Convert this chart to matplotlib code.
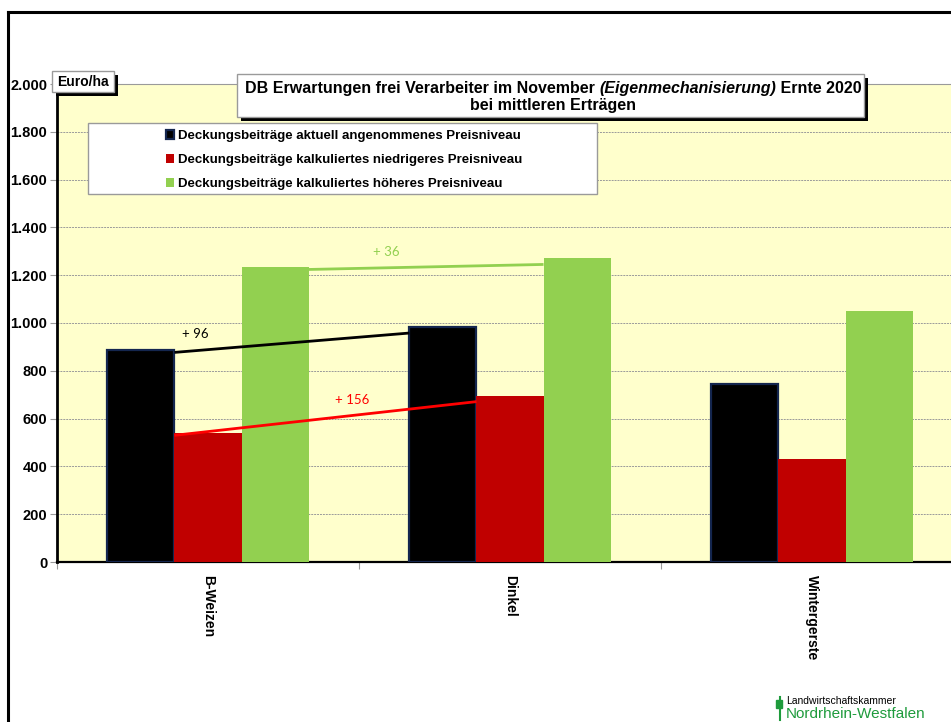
import numpy as np
import matplotlib
matplotlib.use("Agg")
import matplotlib.pyplot as plt
from matplotlib.patches import Rectangle
from matplotlib.ticker import FuncFormatter

# Daten (Euro/ha)
kulturen = ["B-Weizen", "Dinkel", "Wintergerste"]
db_aktuell = [887, 983, 745]
db_niedriger = [540, 696, 431]
db_hoeher = [1234, 1270, 1050]
serien_namen = [
    "Deckungsbeiträge aktuell angenommenes Preisniveau",
    "Deckungsbeiträge kalkuliertes niedrigeres Preisniveau",
    "Deckungsbeiträge kalkuliertes höheres Preisniveau",
]
farben = ["#000000", "#C00000", "#92D050"]

W, H = 951, 722
fig = plt.figure(figsize=(W / 100, H / 100), dpi=100)
fig.patch.set_facecolor("white")


def fx(px):
    return px / W


def fy(py):
    return 1 - py / H


# äußerer Rahmen
fig.add_artist(plt.Line2D([fx(8), fx(8)], [fy(12), 0], color="black", lw=2.2))
fig.add_artist(plt.Line2D([fx(8), 1], [fy(12), fy(12)], color="black", lw=2.2))

ax = fig.add_axes([fx(57), fy(562), fx(906), fy(84) - fy(562)])
ax.set_facecolor("#FFFFCC")

x = np.arange(len(kulturen))
w = 0.222
ax.bar(x - w, db_aktuell, w, color=farben[0], edgecolor="#14264F", linewidth=1.6,
       label=serien_namen[0], zorder=3)
ax.bar(x, db_niedriger, w, color=farben[1], label=serien_namen[1], zorder=3)
ax.bar(x + w, db_hoeher, w, color=farben[2], label=serien_namen[2], zorder=3)

ax.set_xlim(-0.5, len(kulturen) - 0.5)
ax.set_ylim(0, 2000)
ax.set_yticks(np.arange(0, 2001, 200))
ax.yaxis.set_major_formatter(FuncFormatter(lambda v, p: f"{int(v):,}".replace(",", ".")))
ax.grid(axis="y", color="#9A9A9A", linestyle=(0, (2, 1)), linewidth=0.7, zorder=0)
ax.tick_params(axis="y", length=5, color="#9A9A9A", pad=2)
for t in ax.get_yticklabels():
    t.set_fontweight("bold")
    t.set_fontsize(10.5)
    t.set_family("Liberation Sans")

ax.set_xticks(np.arange(-0.5, len(kulturen), 1.0))
ax.set_xticklabels([])
ax.tick_params(axis="x", length=5, color="#9A9A9A")
for i, k in enumerate(kulturen):
    ax.text(i, -55, k, rotation=-90, ha="center", va="top", fontsize=10,
            fontweight="bold", family="Liberation Sans", clip_on=False)

ax.spines["left"].set_linewidth(2)
ax.spines["bottom"].set_linewidth(1.6)
ax.spines["top"].set_color("#9A9A9A")
ax.spines["right"].set_visible(False)

# Verbindungslinien mit Differenzen (B-Weizen -> Dinkel)
linien = [
    (db_aktuell, -w / 2, 1 - 1.5 * w, "black", 0.09, 60),
    (db_niedriger, -w / 2, 1 - w / 2, "#FF0000", 0.59, 45),
    (db_hoeher, 1.5 * w, 1 + w / 2, "#92D050", 0.33, 50),
]
for werte, x0, x1, c, f, dy in linien:
    y0, y1 = werte[0], werte[1]
    ax.plot([x0, x1], [y0 - 10, y1 - 25], color=c, lw=2, zorder=4, solid_capstyle="butt")
    ax.text(x0 + f * (x1 - x0), y0 + f * (y1 - y0) + dy, f"+ {y1 - y0}",
            color=c, fontsize=9.5, family="Lato", ha="center", va="center", zorder=5)


def box(x0, y0, x1, y1, shadow=True, edge="#9A9A9A"):
    if shadow:
        fig.add_artist(Rectangle((fx(x0 + 4), fy(y1 + 4)), fx(x1 - x0), fy(y0) - fy(y1),
                                 facecolor="black", edgecolor="none", zorder=5))
    fig.add_artist(Rectangle((fx(x0), fy(y1)), fx(x1 - x0), fy(y0) - fy(y1),
                             facecolor="white", edgecolor=edge, lw=1, zorder=6))


# Einheit
box(52, 71, 114, 92)
fig.text(fx(83), fy(82), "Euro/ha", ha="center", va="center", fontsize=10,
         fontweight="bold", family="Liberation Sans", zorder=7)

# Titel (erste Zeile aus drei Teilen, zentriert)
box(237, 74, 864, 117)
titel_kw = dict(va="baseline", ha="left", fontsize=11.5, fontweight="bold",
                family="Liberation Sans", zorder=7)
teile = [
    fig.text(0, fy(93), "DB Erwartungen frei Verarbeiter im November ", **titel_kw),
    fig.text(0, fy(93), "(Eigenmechanisierung)", style="italic", **titel_kw),
    fig.text(0, fy(93), " Ernte 2020", **titel_kw),
]
fig.text(fx(553), fy(110), "bei mittleren Erträgen", ha="center", va="baseline",
         fontsize=11.5, fontweight="bold", family="Liberation Sans", zorder=7)

# Legende
box(88, 123, 597, 194, shadow=False)
leg = fig.legend(loc="upper left", bbox_to_anchor=(fx(154), fy(118)), frameon=False,
                 prop={"family": "Liberation Sans", "weight": "bold", "size": 9.5},
                 handlelength=0.65, handleheight=0.65, handletextpad=0.25,
                 labelspacing=0.9)
leg.set_zorder(8)

# Logo
fig.text(fx(786), fy(701), "Landwirtschaftskammer", fontsize=7.5, family="Liberation Sans",
         va="center", ha="left")
fig.text(fx(786), fy(714), "Nordrhein-Westfalen", fontsize=11, family="Liberation Sans",
         color="#1E9B3C", va="center", ha="left")
fig.add_artist(plt.Line2D([fx(780), fx(780)], [fy(697), fy(720)], color="#1E9B3C", lw=1.5))
fig.add_artist(Rectangle((fx(776), fy(708)), fx(6), fy(700) - fy(708), color="#1E9B3C"))

fig.canvas.draw()
r = fig.canvas.get_renderer()
breiten = [t.get_window_extent(r).width for t in teile]
start = 553 - sum(breiten) / 2
for t, b in zip(teile, breiten):
    t.set_x(fx(start))
    start += b

fig.savefig("out.png", dpi=100)
